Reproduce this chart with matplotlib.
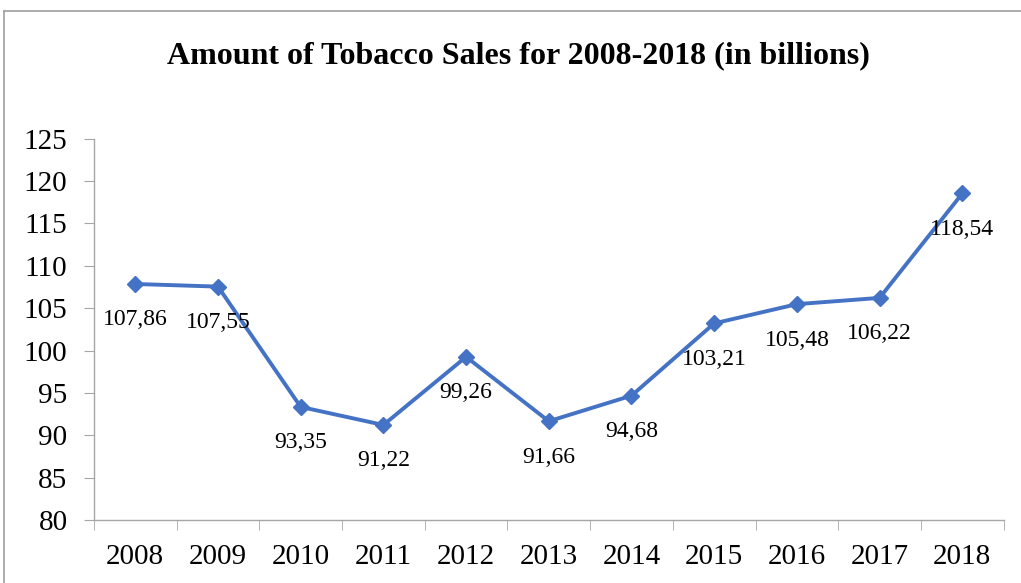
import matplotlib.pyplot as plt
import numpy as np
from matplotlib.lines import Line2D

# --- Datos --- #
years = ['2008', '2009', '2010', '2011', '2012', '2013', '2014', '2015', '2016', '2017', '2018']
sales = [107.86, 107.55, 93.35, 91.22, 99.26, 91.66, 94.68, 103.21, 105.48, 106.22, 118.54]
labels = ['107,86', '107,55', '93,35', '91,22', '99,26', '91,66', '94,68', '103,21', '105,48', '106,22', '118,54']

plt.rcParams['font.family'] = ['Liberation Serif', 'DejaVu Serif']

fig = plt.figure(figsize=(10.21, 5.83), dpi=100)
ax = fig.add_axes([0.092, 0.108, 0.891, 0.654])

x = np.arange(len(years))
ax.plot(x, sales, color='#4472C4', linewidth=2.8, marker='D', markersize=8)

for xi, yi, lab in zip(x, sales, labels):
    ax.annotate(lab, (xi, yi), xytext=(0, -36), textcoords='offset pixels',
                ha='center', va='center', fontsize=17)

# --- Ejes --- #
ax.set_xlim(-0.5, len(years) - 0.5)
ax.set_ylim(80, 125)
ax.set_yticks(np.arange(80, 126, 5))
ax.set_xticks(x)
ax.set_xticklabels(years)
ax.set_xticks(np.arange(-0.5, len(years), 1), minor=True)
ax.tick_params(axis='x', which='major', length=0, labelsize=21, pad=17)
ax.tick_params(axis='x', which='minor', length=7, color='#A6A6A6', direction='out')
ax.tick_params(axis='y', length=7, color='#A6A6A6', labelsize=21, pad=12)

for s in ['top', 'right']:
    ax.spines[s].set_visible(False)
for s in ['left', 'bottom']:
    ax.spines[s].set_color('#A6A6A6')
    ax.spines[s].set_linewidth(1)

fig.suptitle('Amount of Tobacco Sales for 2008-2018 (in billions)', fontsize=23,
             fontweight='bold', x=0.508, y=0.905, va='center')

# --- Borde --- #
fig.add_artist(Line2D([4 / 1021, 1.0], [1 - 11 / 583, 1 - 11 / 583], color='#A0A0A0', linewidth=1.2))
fig.add_artist(Line2D([4 / 1021, 4 / 1021], [0.0, 1 - 11 / 583], color='#A0A0A0', linewidth=1.2))

fig.savefig('out.png', dpi=100)
